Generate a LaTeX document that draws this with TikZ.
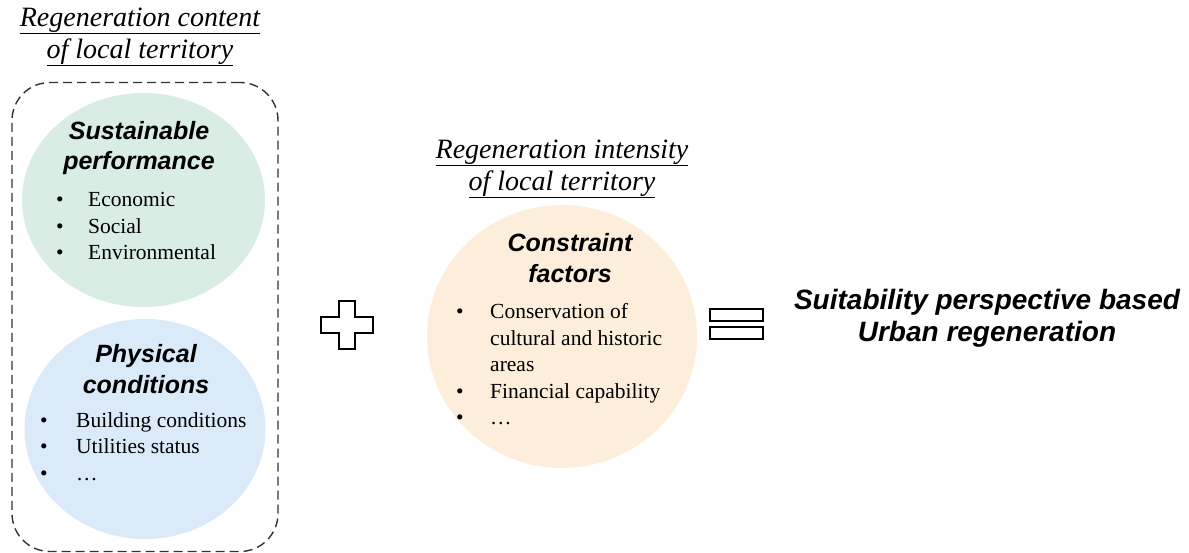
\documentclass[tikz,border=0pt]{standalone}
\usepackage{fontspec}
\setmainfont{Liberation Serif}
\setsansfont{Liberation Sans}
\usetikzlibrary{shapes.geometric}
\definecolor{greenfill}{HTML}{D9EDE5}
\definecolor{bluefill}{HTML}{DAEAF8}
\definecolor{orangefill}{HTML}{FDEEDC}
\definecolor{dashgray}{HTML}{333333}
\newcommand{\bulA}{\makebox[32pt][l]{•}}
\newcommand{\bulB}{\makebox[36pt][l]{•}}
\newcommand{\bulC}{\makebox[34pt][l]{•}}
\begin{document}
\begin{tikzpicture}[x=1pt,y=-1pt,
  heading/.style={font=\fontsize{28}{32}\selectfont\itshape, align=center, inner sep=0pt},
  circtitle/.style={font=\fontsize{25}{30.5}\selectfont\sffamily\bfseries\itshape, align=center, inner sep=0pt},
  listtext/.style={font=\fontsize{21.5}{26.5}\selectfont, inner sep=0pt, anchor=base west},
  blob/.style={ellipse, draw=none, inner sep=0pt},
  symbol/.style={draw=black, line width=2pt},
  result/.style={font=\fontsize{28}{32}\selectfont\sffamily\bfseries\itshape, align=center, inner sep=0pt}
]
\useasboundingbox (0,0) rectangle (1189,553);

% left group
\node[heading] (h1) at (140,37) {\underline{Regeneration content}\\\underline{of local territory}};
\node[draw=dashgray, dash pattern=on 9pt off 5pt, line width=1.4pt, rounded corners=38pt,
      minimum width=266pt, minimum height=469pt, inner sep=0pt] (box) at (145,317) {};
\node[blob, fill=greenfill, minimum width=243pt, minimum height=214pt] (green) at (143.5,200) {};
\node[blob, fill=bluefill, minimum width=241pt, minimum height=220pt] (blue) at (145,429) {};

\node[circtitle] (t1) at (139,148) {Sustainable\\performance};
\node[listtext] (l1) at (56,207) {\begin{tabular}[t]{@{}l@{}}\bulA Economic\\\bulA Social\\\bulA Environmental\end{tabular}};

\node[circtitle] (t2) at (146,369) {Physical\\conditions};
\node[listtext] (l2) at (40,427) {\begin{tabular}[t]{@{}l@{}}\bulB Building conditions\\\bulB Utilities status\\\bulB \dots\end{tabular}};

% plus
\draw[symbol] (339,301) -- (355,301) -- (355,317) -- (373,317) -- (373,333) -- (355,333)
   -- (355,349) -- (339,349) -- (339,333) -- (321,333) -- (321,317) -- (339,317) -- cycle;

% middle group
\node[heading] (h2) at (562,169) {\underline{Regeneration intensity}\\\underline{of local territory}};
\node[blob, fill=orangefill, minimum width=270pt, minimum height=263pt] (orange) at (562,336.5) {};
\node[circtitle] (t3) at (570,258) {Constraint\\factors};
\node[listtext] (l3) at (456,319) {\begin{tabular}[t]{@{}l@{}}\bulC Conservation of\\\hphantom{\bulC}cultural and historic\\\hphantom{\bulC}areas\\\bulC Financial capability\\\bulC \dots\end{tabular}};

% equal
\draw[symbol] (710,309) rectangle (763,321);
\draw[symbol] (710,327) rectangle (763,339);

\node[result] (res) at (987,318) {Suitability perspective based\\Urban regeneration};
\end{tikzpicture}
\end{document}
